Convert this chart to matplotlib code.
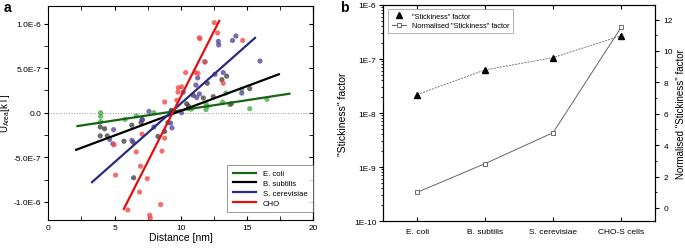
import numpy as np
import matplotlib
matplotlib.use("Agg")
import matplotlib.pyplot as plt
from matplotlib.ticker import FuncFormatter, MultipleLocator, FixedLocator
from matplotlib.lines import Line2D

plt.rcParams['font.family'] = ['Liberation Sans', 'DejaVu Sans']
plt.rcParams['mathtext.default'] = 'regular'

# ---------------- panel a data (x in nm, y in 1E-6 kT) ----------------
ecoli_x = [3.95, 3.95, 3.95, 5.8, 6.65, 7.97, 9.3, 10.6, 10.8, 11.9, 11.9, 12.0,
           13.15, 13.4, 13.7, 14.6, 15.2, 16.5]
ecoli_y = [0.0, -0.04, -0.10, -0.075, -0.035, 0.0, 0.02, 0.05, 0.04, 0.10, 0.035, 0.07,
           0.12, 0.22, 0.09, 0.26, 0.045, 0.15]

bsub_x = [3.92, 4.25, 3.92, 4.45, 5.71, 6.4, 6.44, 6.3, 7.0, 7.1, 8.28, 8.78, 9.03,
          9.28, 10.44, 10.57, 10.94, 11.7, 12.0, 12.45, 13.1, 13.46, 13.8, 15.2]
bsub_y = [-0.16, -0.18, -0.26, -0.26, -0.32, -0.33, -0.73, -0.14, -0.11, -0.08, -0.266,
          -0.21, -0.11, 0.026, 0.10, 0.075, 0.195, 0.165, 0.33, 0.18, 0.37, 0.41, 0.10, 0.27]

scer_x = [4.93, 4.63, 4.88, 6.31, 7.07, 7.6, 7.97, 9.23, 9.33, 10.06, 10.19, 11.14,
          11.27, 11.2, 11.4, 11.82, 12.58, 12.83, 12.86, 13.2, 13.9, 14.16, 14.6, 15.97]
scer_y = [-0.19, -0.30, -0.35, -0.31, -0.075, 0.015, -0.16, -0.116, -0.17, 0.0, 0.23,
          0.31, 0.39, 0.17, 0.21, 0.57, 0.43, 0.80, 0.76, 0.45, 0.81, 0.86, 0.22, 0.58]

cho_x = [5.08, 6.0, 4.96, 6.64, 7.07, 6.96, 6.89, 7.47, 7.65, 7.7, 8.48, 8.58, 8.78,
         8.78, 9.7, 9.79, 9.81, 10.06, 10.36, 11.12, 11.3, 11.4, 11.45, 11.82, 12.53,
         12.78, 13.2, 14.67]
cho_y = [-0.70, -1.09, -0.36, -0.44, -0.24, -0.60, -0.89, -0.74, -1.15, -1.18, -1.03,
         -0.43, -0.285, 0.12, 0.14, 0.23, 0.28, 0.29, 0.45, 0.45, 0.44, 0.84, 0.83, 0.57,
         1.01, 0.895, 0.33, 0.81]

# linear fits: x range and y at each end
ecoli_fit_x = [2.2, 18.2]
ecoli_fit_y = [-0.15, 0.213]
bsub_fit_x = [2.1, 17.4]
bsub_fit_y = [-0.416, 0.431]
scer_fit_x = [3.3, 15.6]
scer_fit_y = [-0.779, 0.839]
cho_fit_x = [5.7, 12.9]
cho_fit_y = [-1.079, 1.03]

names_a = ['E. coli', 'B. subtilis', 'S. cerevisiae', 'CHO']

# ---------------- panel b data ----------------
cells = ['E. coli', 'B. subtilis', 'S. cerevisiae', 'CHO-S cells']
stickiness = [2.2e-8, 6.3e-8, 1.06e-7, 2.7e-7]
normalised = [1.0, 2.83, 4.8, 11.5]

U = 1e-6

fig = plt.figure(figsize=(6.85, 2.51), dpi=100)

# ---------------- panel a ----------------
ax = fig.add_axes([0.0705, 0.1207, 0.3869, 0.8526])
series = [
    (ecoli_x, ecoli_y, ecoli_fit_x, ecoli_fit_y, '#4aac4a', '#156515'),
    (bsub_x, bsub_y, bsub_fit_x, bsub_fit_y, '#4d4242', '#000000'),
    (scer_x, scer_y, scer_fit_x, scer_fit_y, '#5848a2', '#2a2a80'),
    (cho_x, cho_y, cho_fit_x, cho_fit_y, '#f24c4c', '#e01010'),
]
ax.axhline(0, color='#999999', lw=0.7, ls=':', zorder=1)
for (x, y, fx, fy, pc, lc), name in zip(series, names_a):
    ax.scatter(x, np.array(y) * U, s=14, color=pc, alpha=0.8, edgecolors='none', zorder=2)
for (x, y, fx, fy, pc, lc), name in zip(series, names_a):
    ax.plot(fx, np.array(fy) * U, color=lc, lw=1.6, label=name, zorder=3)

ax.set_xlim(0, 20)
ax.set_ylim(-1.2e-6, 1.2e-6)
ax.xaxis.set_major_locator(MultipleLocator(5))
ax.xaxis.set_minor_locator(MultipleLocator(2.5))
ax.yaxis.set_major_locator(MultipleLocator(5e-7))
ax.yaxis.set_minor_locator(MultipleLocator(2.5e-7))


def sci_fmt(v, pos):
    if abs(v) < 1e-12:
        return '0.0'
    m, e = f'{v:.1E}'.split('E')
    return f'{m}E{int(e)}'


ax.yaxis.set_major_formatter(FuncFormatter(sci_fmt))
ax.tick_params(axis='x', which='both', direction='in', top=True, labelsize=6, length=3, pad=3)
ax.tick_params(axis='y', which='both', direction='out', labelsize=6, length=3, pad=2)
axr = ax.secondary_yaxis('right')
axr.yaxis.set_major_locator(MultipleLocator(5e-7))
axr.yaxis.set_minor_locator(MultipleLocator(2.5e-7))
axr.tick_params(which='both', direction='in', length=3, labelright=False)
ax.set_xlabel('Distance [nm]', fontsize=7.5, labelpad=1)
ax.set_ylabel(r'U$_{Area}$[kT]', fontsize=7, labelpad=1)
leg = ax.legend(loc='lower right', fontsize=5.6, handlelength=3.0, frameon=True,
                fancybox=False, edgecolor='#666666', borderpad=0.7, labelspacing=0.3,
                handletextpad=0.9, borderaxespad=0, bbox_to_anchor=(1.0, 0.035))
leg.get_frame().set_linewidth(0.6)
for lw in ax.spines.values():
    lw.set_linewidth(0.8)

fig.text(0.005, 0.995, 'a', fontsize=10, fontweight='bold', va='top', ha='left')

# ---------------- panel b ----------------
bx = fig.add_axes([0.5596, 0.1155, 0.3966, 0.8606])
xpos = np.arange(1, len(cells) + 1)
bx.plot(xpos, stickiness, color='#777777', lw=0.7, ls=(0, (2, 1.2)), zorder=2)
bx.plot(xpos, stickiness, ls='none', marker='^', color='black', ms=4, zorder=3)
bx.set_yscale('log')
bx.set_ylim(1e-10, 1e-6)
bx.set_xlim(0.5, 4.5)
bx.set_xticks(xpos)
bx.set_xticklabels(cells, fontsize=6)
bx.yaxis.set_major_locator(FixedLocator([1e-10, 1e-9, 1e-8, 1e-7, 1e-6]))
bx.yaxis.set_major_formatter(FuncFormatter(lambda v, p: f'1E{int(round(np.log10(v)))}'))
bx.tick_params(axis='y', which='both', direction='out', labelsize=6, pad=2)
bx.tick_params(axis='y', which='major', length=3)
bx.tick_params(axis='y', which='minor', length=1.5)
bx.tick_params(axis='x', direction='in', top=True, length=3, pad=5)
bx.set_ylabel('"Stickiness" factor', fontsize=7.5, labelpad=4)

bx2 = bx.twinx()
bx2.plot(xpos, normalised, color='#666666', lw=0.7, marker='s', ms=3.5,
         mfc='white', mec='#555555', mew=0.6, zorder=3)
bx2.set_ylim(-0.83, 12.93)
bx2.yaxis.set_major_locator(MultipleLocator(2))
bx2.yaxis.set_minor_locator(MultipleLocator(1))
bx2.tick_params(axis='y', which='both', direction='out', labelsize=6, pad=3)
bx2.tick_params(axis='y', which='major', length=3)
bx2.tick_params(axis='y', which='minor', length=1.5)
bx2.set_ylabel('Normalised "Stickiness" factor', fontsize=7, labelpad=2)

h1 = Line2D([], [], ls='none', marker='^', color='black', ms=4)
h2 = Line2D([], [], color='#666666', lw=0.7, marker='s', ms=3.5, mfc='white', mec='#555555', mew=0.6)
leg2 = bx2.legend([h1, h2], ['"Stickiness" factor', 'Normalised "Stickiness" factor'],
                  loc='upper left', fontsize=5.3, frameon=True, fancybox=False,
                  edgecolor='#777777', handlelength=2.0, borderpad=0.5, labelspacing=0.3,
                  borderaxespad=0, bbox_to_anchor=(0.017, 0.982))
leg2.get_frame().set_linewidth(0.5)
for s in list(bx.spines.values()) + list(bx2.spines.values()):
    s.set_linewidth(0.8)

fig.text(0.497, 0.995, 'b', fontsize=10, fontweight='bold', va='top', ha='left')

fig.savefig('out.png', dpi=100)
